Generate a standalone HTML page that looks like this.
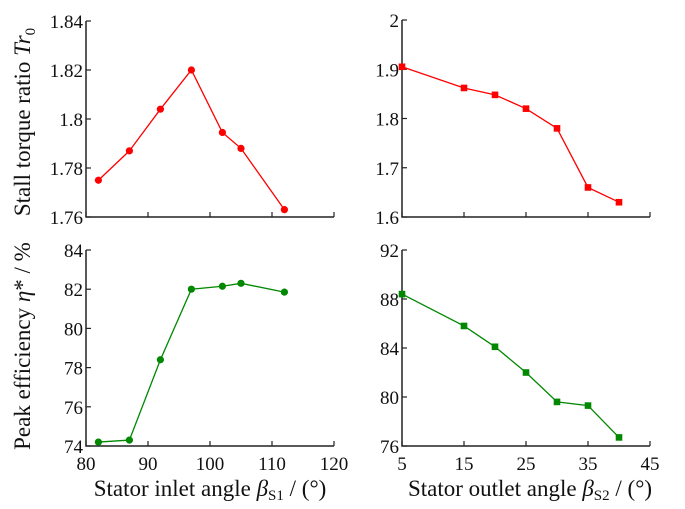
<!DOCTYPE html>
<html><head><meta charset="utf-8"><style>
body{margin:0;background:#fff}
text{font-family:"Liberation Serif","DejaVu Serif","Times New Roman",serif !important;fill:#111}
</style></head><body>
<svg id="c" width="685" height="504" xmlns="http://www.w3.org/2000/svg" font-family="Liberation Serif, DejaVu Serif, serif"></svg>
<script>
const xInlet=[82,87,92,97,102,105,112];
const xOutlet=[5,15,20,25,30,35,40];
const torqueInlet=[1.775,1.787,1.804,1.820,1.7945,1.788,1.763];
const torqueOutlet=[1.905,1.862,1.848,1.820,1.780,1.660,1.630];
const effInlet=[74.2,74.3,78.4,82.0,82.15,82.3,81.85];
const effOutlet=[88.4,85.8,84.1,82.0,79.6,79.3,76.7];
const ticksInletX=[80,90,100,110,120];
const ticksOutletX=[5,15,25,35,45];
const ticksTorqueInletY=["1.76","1.78","1.8","1.82","1.84"];
const ticksTorqueOutletY=["1.6","1.7","1.8","1.9","2"];
const ticksEffInletY=["74","76","78","80","82","84"];
const ticksEffOutletY=["76","80","84","88","92"];
const svg=document.getElementById('c');
const NS='http://www.w3.org/2000/svg';
function mk(t,a,p){const e=document.createElementNS(NS,t);for(const k in a)e.setAttribute(k,a[k]);(p||svg).appendChild(e);return e;}
function panel(name,L,R,T,B,xd,yd,xt,yt,xs,ys,color,marker,showX){
  const g=mk('g',{});
  
  
  const sx=v=>L+(v-xd[0])/(xd[1]-xd[0])*(R-L);
  const sy=v=>B-(v-yd[0])/(yd[1]-yd[0])*(B-T);
  const ax=mk('path',{d:`M${L},${T} L${L},${B} L${R},${B}`,stroke:'#222','stroke-width':1.5,fill:'none'},g);
  
  
  xt.forEach(v=>{const x=sx(+v);mk('line',{x1:x,x2:x,y1:B,y2:B-5,stroke:'#222','stroke-width':1.2},g);
    if(showX){const t=mk('text',{x:x,y:B+24,'text-anchor':'middle','font-size':19},g);t.textContent=v;
      }});
  yt.forEach(v=>{const y=sy(+v);mk('line',{x1:L,x2:L+5,y1:y,y2:y,stroke:'#222','stroke-width':1.2},g);
    const t=mk('text',{x:L-3,y:y+7,'text-anchor':'end','font-size':19},g);t.textContent=v;
    });
  const pts=xs.map((v,i)=>[sx(v),sy(ys[i])]);
  const ln=mk('polyline',{points:pts.map(p=>p.join(',')).join(' '),stroke:color,'stroke-width':1.3,fill:'none'},g);
  
  
  pts.forEach(p=>{let m;
    if(marker==='c')m=mk('circle',{cx:p[0],cy:p[1],r:3.6,fill:color},g);
    else m=mk('rect',{x:p[0]-3.3,y:p[1]-3.3,width:6.6,height:6.6,fill:color},g);
    
    });
}
panel('torque-inlet-panel',86,334,21,217,[80,120],[1.76,1.84],ticksInletX,ticksTorqueInletY,xInlet,torqueInlet,'#f00','c',false);
panel('torque-outlet-panel',402,650,20,217,[5,45],[1.6,2.0],ticksOutletX,ticksTorqueOutletY,xOutlet,torqueOutlet,'#f00','s',false);
panel('eff-inlet-panel',86,334,250,446,[80,120],[74,84],ticksInletX,ticksEffInletY,xInlet,effInlet,'#080','c',true);
panel('eff-outlet-panel',402,650,250,446,[5,45],[76,92],ticksOutletX,ticksEffOutletY,xOutlet,effOutlet,'#080','s',true);
</script>
<svg width="685" height="504" style="position:absolute;left:0;top:0" xmlns="http://www.w3.org/2000/svg" font-family="Liberation Serif, DejaVu Serif, serif">
<text transform="translate(30,122) rotate(-90)" text-anchor="middle" font-size="23">Stall torque ratio <tspan font-style="italic">Tr</tspan><tspan font-size="15" dy="5">0</tspan></text>
<text transform="translate(30,346) rotate(-90)" text-anchor="middle" font-size="23">Peak efficiency <tspan font-style="italic">η</tspan>* / %</text>
<text x="210" y="496" text-anchor="middle" font-size="23">Stator inlet angle <tspan font-style="italic">β</tspan><tspan font-size="15" dy="4">S1</tspan><tspan dy="-4"> / (°)</tspan></text>
<text x="530" y="496" text-anchor="middle" font-size="23">Stator outlet angle <tspan font-style="italic">β</tspan><tspan font-size="15" dy="4">S2</tspan><tspan dy="-4"> / (°)</tspan></text>
</svg>
</body></html>
